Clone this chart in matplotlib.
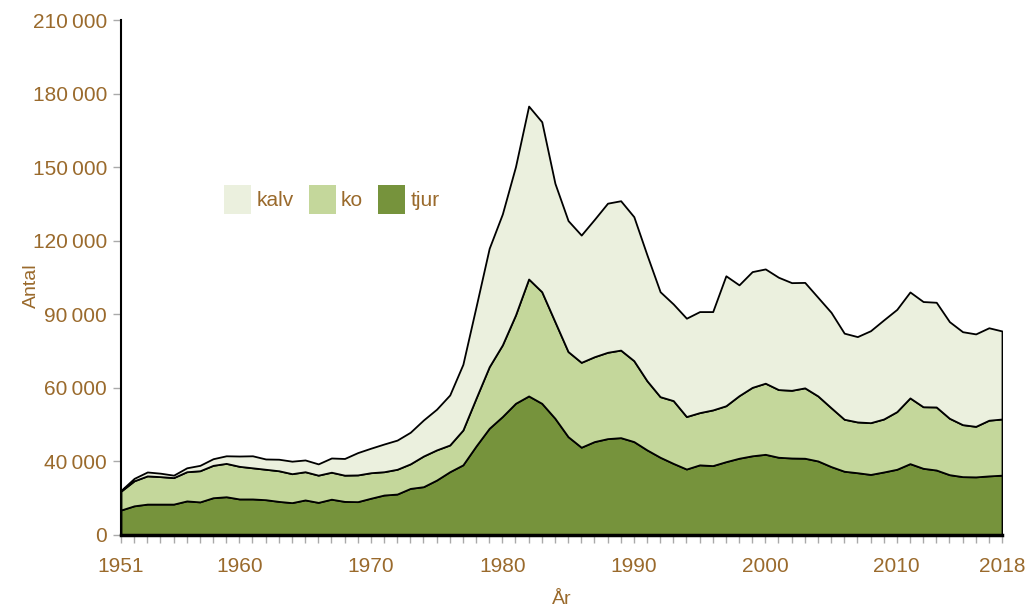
import matplotlib
matplotlib.use("Agg")
import matplotlib.pyplot as plt
from matplotlib.patches import Patch

years = list(range(1951, 2019))

tjur = [10200, 11900, 12600, 12600, 12600, 13900, 13500, 15200, 15600, 14700,
        14700, 14400, 13700, 13200, 14300, 13300, 14600, 13700, 13600, 15000,
        16300, 16700, 19000, 19700, 22400, 25800, 28600, 36300, 43500, 48300,
        53700, 56700, 53700, 47600, 40100, 35800, 38100, 39300, 39700, 38100,
        34700, 31700, 29200, 26900, 28600, 28300, 29900, 31300, 32300, 32900,
        31700, 31400, 31300, 30200, 27900, 26000, 25400, 24700, 25700, 26800,
        29100, 27200, 26500, 24600, 23800, 23700, 24100, 24400]

ko = [7700, 10200, 11500, 11200, 10800, 11900, 12700, 13200, 13600, 13300,
      12700, 12400, 12500, 11800, 11500, 11100, 11000, 10700, 10900, 10400,
      9500, 10100, 10000, 12500, 12300, 10900, 14200, 19500, 25100, 29200,
      36000, 47700, 45500, 39400, 34700, 34600, 34600, 35200, 35700, 33000,
      28200, 24700, 25600, 21400, 21300, 22700, 22800, 25500, 27900, 29000,
      27600, 27600, 28700, 26500, 24000, 21200, 20700, 21100, 21600, 23500,
      26800, 25100, 25700, 23000, 21200, 20600, 22700, 22900]

kalv = [300, 1000, 1600, 1400, 1000, 1600, 2200, 2700, 3100, 4200,
        4900, 4200, 4700, 5100, 4800, 4600, 5800, 6800, 9100, 10000,
        11300, 11900, 12900, 14700, 16600, 20400, 26800, 37300, 48300, 53400,
        60500, 70500, 69300, 56400, 53400, 51900, 56000, 60800, 60900, 58700,
        51300, 42800, 39400, 40100, 41200, 40100, 53000, 45200, 47200, 46600,
        45800, 43900, 43000, 40200, 38900, 35100, 34800, 37500, 40400, 41700,
        43200, 42900, 42700, 39400, 37900, 37700, 37700, 35900]

labels = ["tjur", "ko", "kalv"]
colors = ["#76933c", "#c4d79b", "#ebf0de"]

ytick_vals = [0, 30000, 60000, 90000, 120000, 150000, 180000, 210000]
ytick_labels = ["0", "40\u2009000", "60\u2009000", "90\u2009000", "120\u2009000",
                "150\u2009000", "180\u2009000", "210\u2009000"]
xtick_vals = [1951, 1960, 1970, 1980, 1990, 2000, 2010, 2018]

brown = "#9a6a2c"
plt.rcParams['font.family'] = ['Liberation Sans', 'DejaVu Sans']

fig = plt.figure(figsize=(10.29, 6.10), dpi=100)
ax = fig.add_axes([121 / 1029, 75 / 610, 881 / 1029, 515 / 610])

ax.stackplot(years, tjur, ko, kalv, colors=colors, edgecolor="black", linewidth=1.3)

ax.set_xlim(1951, 2018)
ax.set_ylim(0, 210000)
ax.set_yticks(ytick_vals)
ax.set_yticklabels(ytick_labels)
ax.set_xticks(xtick_vals)
ax.set_xticks(years, minor=True)

ax.spines["top"].set_visible(False)
ax.spines["right"].set_visible(False)
ax.spines["left"].set_linewidth(1.5)
ax.spines["bottom"].set_linewidth(2.5)

ax.tick_params(axis="both", which="major", colors="#aaaaaa", labelcolor=brown,
               labelsize=15, length=6, width=1)
ax.tick_params(axis="x", which="minor", colors="#aaaaaa", length=6, width=1)
ax.tick_params(axis="x", which="major", pad=10)
ax.tick_params(axis="y", which="major", pad=4)

ax.set_xlabel("År", color=brown, fontsize=14)
ax.set_ylabel("Antal", color=brown, fontsize=14)
ax.xaxis.set_label_coords(0.5, -0.108)
ax.yaxis.set_label_coords(-0.092, 0.485)

# legend ordning: kalv, ko, tjur
handles = [Patch(facecolor=colors[2]), Patch(facecolor=colors[1]), Patch(facecolor=colors[0])]
leg = ax.legend(handles, ["kalv", "ko", "tjur"], ncol=3, frameon=False,
                loc="upper left", bbox_to_anchor=(0.117, 0.68), borderpad=0,
                borderaxespad=0, handlelength=1.3, handleheight=1.75,
                handletextpad=0.25, columnspacing=0.72, fontsize=15)
for t in leg.get_texts():
    t.set_color(brown)

fig.savefig("out.png", dpi=100)
